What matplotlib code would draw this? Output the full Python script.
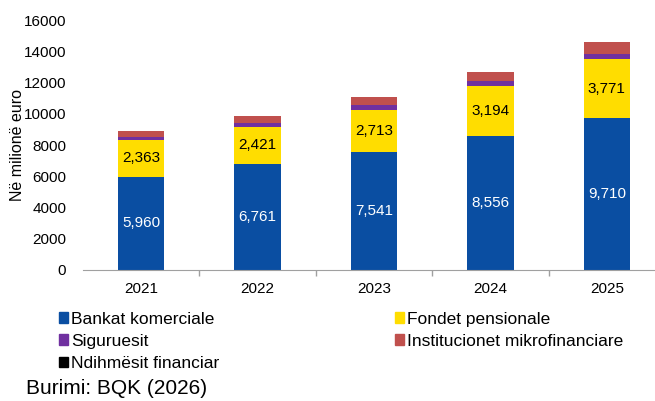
import numpy as np
import matplotlib.pyplot as plt
from matplotlib.patches import Patch

plt.rcParams['font.family'] = ['Liberation Sans', 'DejaVu Sans']

# te dhenat (milione euro)
vitet = ['2021', '2022', '2023', '2024', '2025']
bankat = [5960, 6761, 7541, 8556, 9710]
fondet = [2363, 2421, 2713, 3194, 3771]
siguruesit = [190, 230, 310, 330, 370]
mikro = [380, 440, 520, 600, 730]
ndihmesit = [10, 10, 12, 15, 15]

c_blue = '#0A4EA2'
c_yellow = '#FFDD00'
c_purple = '#7030A0'
c_red = '#C0504D'
c_black = '#000000'

fig = plt.figure(figsize=(6.55, 4.01), dpi=100)
ax = fig.add_axes([0.1264, 0.3267, 0.889, 0.6233])

x = np.arange(len(vitet))
w = 0.4
b1 = np.array(bankat)
b2 = b1 + np.array(fondet)
b3 = b2 + np.array(siguruesit)
b4 = b3 + np.array(mikro)

ax.bar(x, bankat, w, color=c_blue)
ax.bar(x, fondet, w, bottom=b1, color=c_yellow)
ax.bar(x, siguruesit, w, bottom=b2, color=c_purple)
ax.bar(x, mikro, w, bottom=b3, color=c_red)
ax.bar(x, ndihmesit, w, bottom=b4, color='#808080')

# etiketat brenda shtyllave
for i in range(len(vitet)):
    ax.text(x[i], bankat[i] / 2, f'{bankat[i]:,}', ha='center', va='center',
            color='white', fontsize=11)
    ax.text(x[i], b1[i] + fondet[i] / 2, f'{fondet[i]:,}', ha='center',
            va='center', color='black', fontsize=11)

ax.set_xlim(-0.5, 4.5)
ax.set_ylim(0, 16000)
ax.set_yticks(range(0, 16001, 2000))
ax.set_xticks(x)
ax.set_xticklabels(vitet)
ax.set_xticks(np.arange(0.5, 4.5, 1), minor=True)
ax.tick_params(axis='y', length=0, pad=12, labelsize=11)
ax.tick_params(axis='x', which='major', length=0, pad=9, labelsize=11)
ax.tick_params(axis='x', which='minor', length=4, color='#A0A0A0', width=1)

for s in ['top', 'right', 'left']:
    ax.spines[s].set_visible(False)
ax.spines['bottom'].set_color('#A0A0A0')

fig.text(0.026, 0.6384, 'Në milionë euro', rotation=90, ha='center',
         va='center', fontsize=11.5)

handles = [Patch(color=c_blue, label='Bankat komerciale'),
           Patch(color=c_purple, label='Siguruesit'),
           Patch(color=c_black, label='Ndihmësit financiar'),
           Patch(color=c_yellow, label='Fondet pensionale'),
           Patch(color=c_red, label='Institucionet mikrofinanciare')]
fig.legend(handles=handles, ncol=2, loc='upper left',
           bbox_to_anchor=(0.09, 0.223), frameon=False, fontsize=12.5,
           handlelength=0.55, handleheight=0.55, handletextpad=0.15,
           labelspacing=0.42, columnspacing=10.1, borderaxespad=0, borderpad=0)

fig.text(0.04, 0.03, 'Burimi: BQK (2026)', ha='left', va='center',
         fontsize=15)

fig.savefig('out.png', dpi=100)
